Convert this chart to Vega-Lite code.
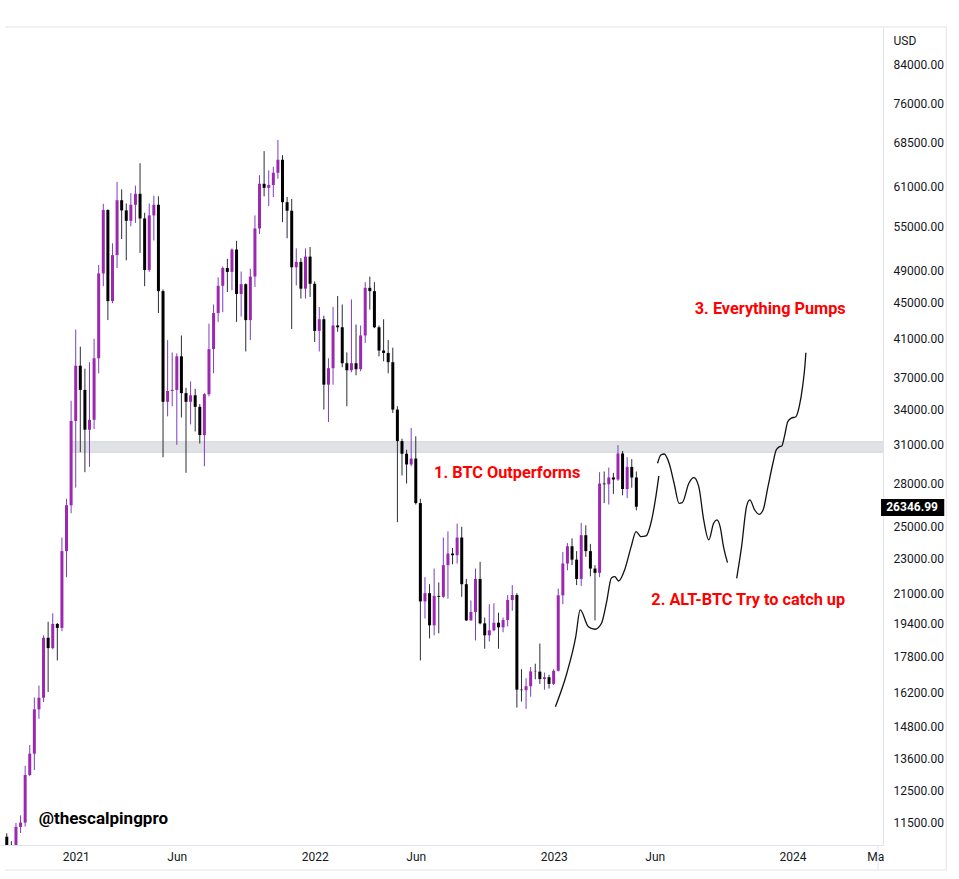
{
  "$schema": "https://vega.github.io/schema/vega-lite/v6.json",
  "width": 883,
  "height": 818,
  "autosize": {"type": "none"},
  "padding": {"left": 0, "top": 27, "right": 76, "bottom": 34},
  "background": "#ffffff",
  "view": {"stroke": null},
  "config": {"font": "Roboto"},
  "datasets": {
    "candles": [
      {"t":"2020-09-21","o":11080,"h":11180,"l":10140,"c":10780},
      {"t":"2020-09-28","o":10780,"h":10950,"l":10370,"c":10670},
      {"t":"2020-10-05","o":10670,"h":11490,"l":10530,"c":11370},
      {"t":"2020-10-12","o":11370,"h":11720,"l":11190,"c":11500},
      {"t":"2020-10-19","o":11500,"h":13350,"l":11380,"c":13030},
      {"t":"2020-10-26","o":13030,"h":14100,"l":12990,"c":13780},
      {"t":"2020-11-02","o":13780,"h":15970,"l":13200,"c":15480},
      {"t":"2020-11-09","o":15480,"h":16480,"l":15100,"c":15960},
      {"t":"2020-11-16","o":15960,"h":18800,"l":15780,"c":18680},
      {"t":"2020-11-23","o":18680,"h":19480,"l":16200,"c":18180},
      {"t":"2020-11-30","o":18180,"h":19920,"l":18120,"c":19370},
      {"t":"2020-12-07","o":19370,"h":19420,"l":17600,"c":19170},
      {"t":"2020-12-14","o":19170,"h":24300,"l":19000,"c":23450},
      {"t":"2020-12-21","o":23450,"h":26900,"l":21900,"c":26450},
      {"t":"2020-12-28","o":26450,"h":34800,"l":25900,"c":33000},
      {"t":"2021-01-04","o":33000,"h":41950,"l":27700,"c":38150},
      {"t":"2021-01-11","o":38150,"h":40100,"l":30400,"c":35800},
      {"t":"2021-01-18","o":35800,"h":37850,"l":28850,"c":32250},
      {"t":"2021-01-25","o":32250,"h":38500,"l":29250,"c":33100},
      {"t":"2021-02-01","o":33100,"h":40950,"l":32300,"c":38900},
      {"t":"2021-02-08","o":38900,"h":49700,"l":37400,"c":48600},
      {"t":"2021-02-15","o":48600,"h":58350,"l":47000,"c":57400},
      {"t":"2021-02-22","o":57400,"h":57500,"l":43000,"c":45200},
      {"t":"2021-03-01","o":45200,"h":52600,"l":44950,"c":51000},
      {"t":"2021-03-08","o":51000,"h":61800,"l":49300,"c":58900},
      {"t":"2021-03-15","o":58900,"h":60600,"l":53200,"c":57350},
      {"t":"2021-03-22","o":57350,"h":58400,"l":50300,"c":55800},
      {"t":"2021-03-29","o":55800,"h":60000,"l":55000,"c":58200},
      {"t":"2021-04-05","o":58200,"h":61200,"l":55500,"c":59900},
      {"t":"2021-04-12","o":59900,"h":64900,"l":51300,"c":56150},
      {"t":"2021-04-19","o":56150,"h":57000,"l":47000,"c":49050},
      {"t":"2021-04-26","o":49050,"h":58400,"l":48800,"c":56600},
      {"t":"2021-05-03","o":56600,"h":59600,"l":53000,"c":58200},
      {"t":"2021-05-10","o":58200,"h":59500,"l":43800,"c":46400},
      {"t":"2021-05-17","o":46400,"h":46600,"l":30000,"c":34700},
      {"t":"2021-05-24","o":34700,"h":40800,"l":33400,"c":35700},
      {"t":"2021-05-31","o":35700,"h":39500,"l":34300,"c":35800},
      {"t":"2021-06-07","o":35800,"h":39400,"l":31000,"c":39100},
      {"t":"2021-06-14","o":39100,"h":41300,"l":33300,"c":35500},
      {"t":"2021-06-21","o":35500,"h":36000,"l":28800,"c":34700},
      {"t":"2021-06-28","o":34700,"h":36600,"l":32700,"c":35300},
      {"t":"2021-07-05","o":35300,"h":35900,"l":32100,"c":34250},
      {"t":"2021-07-12","o":34250,"h":34500,"l":31100,"c":31800},
      {"t":"2021-07-19","o":31800,"h":35500,"l":29300,"c":35400},
      {"t":"2021-07-26","o":35400,"h":42600,"l":35200,"c":39850},
      {"t":"2021-08-02","o":39850,"h":44800,"l":37400,"c":43800},
      {"t":"2021-08-09","o":43800,"h":48100,"l":42800,"c":47050},
      {"t":"2021-08-16","o":47050,"h":49500,"l":43900,"c":49300},
      {"t":"2021-08-23","o":49300,"h":50500,"l":46300,"c":48800},
      {"t":"2021-08-30","o":48800,"h":51900,"l":46500,"c":51750},
      {"t":"2021-09-06","o":51750,"h":52950,"l":42800,"c":46050},
      {"t":"2021-09-13","o":46050,"h":48850,"l":43400,"c":47250},
      {"t":"2021-09-20","o":47250,"h":47350,"l":39600,"c":43000},
      {"t":"2021-09-27","o":43000,"h":49200,"l":40800,"c":48200},
      {"t":"2021-10-04","o":48200,"h":56600,"l":46900,"c":54700},
      {"t":"2021-10-11","o":54700,"h":62900,"l":53900,"c":61500},
      {"t":"2021-10-18","o":61500,"h":67000,"l":59500,"c":60850},
      {"t":"2021-10-25","o":60850,"h":63700,"l":58000,"c":61300},
      {"t":"2021-11-01","o":61300,"h":64300,"l":59400,"c":63300},
      {"t":"2021-11-08","o":63300,"h":69000,"l":62300,"c":65500},
      {"t":"2021-11-15","o":65500,"h":66300,"l":55600,"c":58600},
      {"t":"2021-11-22","o":58600,"h":59400,"l":53300,"c":57300},
      {"t":"2021-11-29","o":57300,"h":59100,"l":42000,"c":49400},
      {"t":"2021-12-06","o":49400,"h":51900,"l":47100,"c":50100},
      {"t":"2021-12-13","o":50100,"h":50600,"l":45500,"c":46700},
      {"t":"2021-12-20","o":46700,"h":51900,"l":45500,"c":50800},
      {"t":"2021-12-27","o":50800,"h":52100,"l":45700,"c":47300},
      {"t":"2022-01-03","o":47300,"h":47600,"l":40600,"c":41800},
      {"t":"2022-01-10","o":41800,"h":44500,"l":39600,"c":43100},
      {"t":"2022-01-17","o":43100,"h":43500,"l":34000,"c":36300},
      {"t":"2022-01-24","o":36300,"h":38900,"l":32900,"c":37900},
      {"t":"2022-01-31","o":37900,"h":44500,"l":36300,"c":42400},
      {"t":"2022-02-07","o":42400,"h":45800,"l":41700,"c":42200},
      {"t":"2022-02-14","o":42200,"h":44800,"l":38000,"c":38400},
      {"t":"2022-02-21","o":38400,"h":39500,"l":34300,"c":37700},
      {"t":"2022-02-28","o":37700,"h":45400,"l":37500,"c":38400},
      {"t":"2022-03-07","o":38400,"h":42500,"l":37200,"c":37800},
      {"t":"2022-03-14","o":37800,"h":42400,"l":37600,"c":41300},
      {"t":"2022-03-21","o":41300,"h":47500,"l":40500,"c":46800},
      {"t":"2022-03-28","o":46800,"h":48200,"l":44200,"c":46400},
      {"t":"2022-04-04","o":46400,"h":47500,"l":42100,"c":42200},
      {"t":"2022-04-11","o":42200,"h":42400,"l":39100,"c":39700},
      {"t":"2022-04-18","o":39700,"h":43100,"l":38600,"c":39450},
      {"t":"2022-04-25","o":39450,"h":40800,"l":37400,"c":38500},
      {"t":"2022-05-02","o":38500,"h":40000,"l":33700,"c":34000},
      {"t":"2022-05-09","o":34000,"h":34300,"l":25300,"c":31300},
      {"t":"2022-05-16","o":31300,"h":31500,"l":28600,"c":30280},
      {"t":"2022-05-23","o":30280,"h":30600,"l":28000,"c":29440},
      {"t":"2022-05-30","o":29440,"h":32400,"l":29300,"c":29900},
      {"t":"2022-06-06","o":29900,"h":31700,"l":26500,"c":26600},
      {"t":"2022-06-13","o":26600,"h":26900,"l":17600,"c":20550},
      {"t":"2022-06-20","o":20550,"h":21900,"l":19650,"c":21000},
      {"t":"2022-06-27","o":21000,"h":21500,"l":18650,"c":19300},
      {"t":"2022-07-04","o":19300,"h":22400,"l":18800,"c":20850},
      {"t":"2022-07-11","o":20850,"h":21600,"l":18900,"c":20800},
      {"t":"2022-07-18","o":20800,"h":24300,"l":20750,"c":22600},
      {"t":"2022-07-25","o":22600,"h":24700,"l":20700,"c":23300},
      {"t":"2022-08-01","o":23300,"h":23650,"l":22650,"c":23200},
      {"t":"2022-08-08","o":23200,"h":25200,"l":22700,"c":24300},
      {"t":"2022-08-15","o":24300,"h":25000,"l":20800,"c":21500},
      {"t":"2022-08-22","o":21500,"h":21800,"l":19520,"c":19550},
      {"t":"2022-08-29","o":19550,"h":20600,"l":19550,"c":19990},
      {"t":"2022-09-05","o":19990,"h":22400,"l":18550,"c":21800},
      {"t":"2022-09-12","o":21800,"h":22800,"l":19350,"c":19400},
      {"t":"2022-09-19","o":19400,"h":19700,"l":18150,"c":18800},
      {"t":"2022-09-26","o":18800,"h":20400,"l":18500,"c":19050},
      {"t":"2022-10-03","o":19050,"h":20450,"l":19000,"c":19430},
      {"t":"2022-10-10","o":19430,"h":19950,"l":18150,"c":19200},
      {"t":"2022-10-17","o":19200,"h":19700,"l":18950,"c":19570},
      {"t":"2022-10-24","o":19570,"h":20900,"l":19250,"c":20630},
      {"t":"2022-10-31","o":20630,"h":21450,"l":20050,"c":20900},
      {"t":"2022-11-07","o":20900,"h":21000,"l":15550,"c":16300},
      {"t":"2022-11-14","o":16300,"h":17200,"l":15800,"c":16280},
      {"t":"2022-11-21","o":16280,"h":16800,"l":15500,"c":16450},
      {"t":"2022-11-28","o":16450,"h":17300,"l":16000,"c":17100},
      {"t":"2022-12-05","o":17100,"h":17450,"l":16750,"c":17090},
      {"t":"2022-12-12","o":17090,"h":18400,"l":16550,"c":16760},
      {"t":"2022-12-19","o":16760,"h":17050,"l":16300,"c":16840},
      {"t":"2022-12-26","o":16840,"h":16950,"l":16350,"c":16550},
      {"t":"2023-01-02","o":16550,"h":17200,"l":16500,"c":17130},
      {"t":"2023-01-09","o":17130,"h":21250,"l":17100,"c":20880},
      {"t":"2023-01-16","o":20880,"h":23400,"l":20400,"c":22700},
      {"t":"2023-01-23","o":22700,"h":23950,"l":22300,"c":23750},
      {"t":"2023-01-30","o":23750,"h":24250,"l":22600,"c":22930},
      {"t":"2023-02-06","o":22930,"h":23450,"l":21450,"c":21800},
      {"t":"2023-02-13","o":21800,"h":25250,"l":21400,"c":24450},
      {"t":"2023-02-20","o":24450,"h":25100,"l":23100,"c":23450},
      {"t":"2023-02-27","o":23450,"h":23900,"l":21950,"c":22400},
      {"t":"2023-03-06","o":22400,"h":22600,"l":19550,"c":22150},
      {"t":"2023-03-13","o":22150,"h":28850,"l":21900,"c":28000},
      {"t":"2023-03-20","o":28000,"h":28900,"l":26600,"c":27950},
      {"t":"2023-03-27","o":27950,"h":29200,"l":26500,"c":28450},
      {"t":"2023-04-03","o":28450,"h":28800,"l":27250,"c":28300},
      {"t":"2023-04-10","o":28300,"h":30970,"l":28200,"c":30300},
      {"t":"2023-04-17","o":30300,"h":30500,"l":27150,"c":27600},
      {"t":"2023-04-24","o":27600,"h":30000,"l":26950,"c":29250},
      {"t":"2023-05-01","o":29250,"h":29850,"l":27700,"c":28450},
      {"t":"2023-05-08","o":28450,"h":28900,"l":26100,"c":26346.99}
    ],
    "curve": [
      {"seg":"A","t":"2023-01-04T17:00:00Z","p":15590},
      {"seg":"A","t":"2023-01-22T05:00:00Z","p":17030},
      {"seg":"A","t":"2023-02-04T17:00:00Z","p":18735},
      {"seg":"A","t":"2023-02-11T10:00:00Z","p":20095},
      {"seg":"A","t":"2023-02-23T22:00:00Z","p":19232},
      {"seg":"A","t":"2023-03-06T00:00:00Z","p":19101},
      {"seg":"A","t":"2023-03-15T22:00:00Z","p":19404},
      {"seg":"A","t":"2023-03-23T10:00:00Z","p":20466},
      {"seg":"A","t":"2023-03-31T00:00:00Z","p":21853},
      {"seg":"A","t":"2023-04-05T02:00:00Z","p":21928},
      {"seg":"A","t":"2023-04-11T02:00:00Z","p":21682},
      {"seg":"A","t":"2023-04-20T02:00:00Z","p":22317},
      {"seg":"A","t":"2023-04-30T02:00:00Z","p":23725},
      {"seg":"A","t":"2023-05-07T14:00:00Z","p":24678},
      {"seg":"A","t":"2023-05-15T02:00:00Z","p":24355},
      {"seg":"A","t":"2023-05-22T17:00:00Z","p":24401},
      {"seg":"A","t":"2023-05-30T05:00:00Z","p":25247},
      {"seg":"A","t":"2023-06-06T17:00:00Z","p":27051},
      {"seg":"A","t":"2023-06-11T05:00:00Z","p":28563},
      {"seg":"B","t":"2023-06-09T07:00:00Z","p":29531},
      {"seg":"B","t":"2023-06-14T07:00:00Z","p":30181},
      {"seg":"B","t":"2023-06-19T10:00:00Z","p":30259},
      {"seg":"B","t":"2023-06-26T22:00:00Z","p":29531},
      {"seg":"B","t":"2023-07-04T12:00:00Z","p":28020},
      {"seg":"B","t":"2023-07-12T00:00:00Z","p":26587},
      {"seg":"B","t":"2023-07-16T22:00:00Z","p":26630},
      {"seg":"B","t":"2023-07-27T00:00:00Z","p":28020},
      {"seg":"B","t":"2023-08-03T14:00:00Z","p":28436},
      {"seg":"B","t":"2023-08-11T02:00:00Z","p":27772},
      {"seg":"B","t":"2023-08-18T14:00:00Z","p":25448},
      {"seg":"B","t":"2023-08-26T05:00:00Z","p":24147},
      {"seg":"B","t":"2023-09-02T17:00:00Z","p":25227},
      {"seg":"B","t":"2023-09-07T17:00:00Z","p":25448},
      {"seg":"B","t":"2023-09-12T14:00:00Z","p":25003},
      {"seg":"B","t":"2023-09-17T17:00:00Z","p":23725},
      {"seg":"B","t":"2023-09-23T19:00:00Z","p":22750},
      {"seg":"C","t":"2023-10-07T19:00:00Z","p":21836},
      {"seg":"C","t":"2023-10-15T07:00:00Z","p":23725},
      {"seg":"C","t":"2023-10-22T19:00:00Z","p":26352},
      {"seg":"C","t":"2023-10-27T19:00:00Z","p":26819},
      {"seg":"C","t":"2023-11-04T07:00:00Z","p":26123},
      {"seg":"C","t":"2023-11-11T00:00:00Z","p":25829},
      {"seg":"C","t":"2023-11-17T00:00:00Z","p":26123},
      {"seg":"C","t":"2023-11-24T12:00:00Z","p":27772},
      {"seg":"C","t":"2023-12-02T00:00:00Z","p":29531},
      {"seg":"C","t":"2023-12-07T00:00:00Z","p":30578},
      {"seg":"C","t":"2023-12-12T00:00:00Z","p":30846},
      {"seg":"C","t":"2023-12-15T14:00:00Z","p":30902},
      {"seg":"C","t":"2023-12-19T12:00:00Z","p":31665},
      {"seg":"C","t":"2023-12-24T14:00:00Z","p":32937},
      {"seg":"C","t":"2023-12-29T14:00:00Z","p":33231},
      {"seg":"C","t":"2024-01-06T02:00:00Z","p":33371},
      {"seg":"C","t":"2024-01-11T02:00:00Z","p":34257},
      {"seg":"C","t":"2024-01-16T05:00:00Z","p":36105},
      {"seg":"C","t":"2024-01-20T02:00:00Z","p":38394},
      {"seg":"C","t":"2024-01-21T05:00:00Z","p":39477}
    ]
  },
  "layer": [
    {
      "data": {"values": [{"t1":"2020-12-27T19:00:00Z","t2":"2024-06-30T00:00:00Z","p1":30400,"p2":31250}]},
      "mark": {"type": "rect", "fill": "#e1e2e6", "stroke": "#d3d5da", "strokeWidth": 1, "clip": true},
      "encoding": {
        "x": {"field": "t1", "type": "temporal"},
        "x2": {"field": "t2"},
        "y": {"field": "p1", "type": "quantitative"},
        "y2": {"field": "p2"}
      }
    },
    {
      "data": {"name": "candles"},
      "mark": {"type": "rule", "strokeWidth": 1, "clip": true},
      "encoding": {
        "x": {"field": "t", "type": "temporal"},
        "y": {"field": "l", "type": "quantitative"},
        "y2": {"field": "h"},
        "color": {"condition": {"test": "datum.c >= datum.o", "value": "#7b3ec6"}, "value": "#2a2e39"}
      }
    },
    {
      "data": {"name": "candles"},
      "mark": {"type": "bar", "size": 3, "orient": "vertical", "clip": true},
      "encoding": {
        "x": {
          "field": "t", "type": "temporal",
          "scale": {"type": "utc", "domain": [{"year": 2020, "month": 9, "date": 18, "hours": 7, "utc": true}, {"year": 2024, "month": 5, "date": 10, "hours": 2, "utc": true}], "nice": false},
          "axis": {
            "title": null, "grid": false, "ticks": false, "domain": true, "domainColor": "#e0e3eb",
            "labelFont": "Roboto", "labelFontSize": 12, "labelColor": "#131722", "labelPadding": 6,
            "labelFlush": false, "labelOverlap": false,
            "values": [
              {"year": 2021, "month": 1, "date": 4, "utc": true},
              {"year": 2021, "month": 6, "date": 7, "utc": true},
              {"year": 2022, "month": 1, "date": 3, "utc": true},
              {"year": 2022, "month": 6, "date": 6, "utc": true},
              {"year": 2023, "month": 1, "date": 2, "utc": true},
              {"year": 2023, "month": 6, "date": 5, "utc": true},
              {"year": 2024, "month": 1, "date": 1, "utc": true},
              {"year": 2024, "month": 5, "date": 6, "utc": true}
            ],
            "labelExpr": "utcmonth(datum.value) == 0 ? utcFormat(datum.value, '%Y') : (utcmonth(datum.value) == 4 ? 'Ma' : 'Jun')"
          }
        },
        "y": {
          "field": "o", "type": "quantitative",
          "scale": {"type": "log", "domain": [10843, 92806], "nice": false, "zero": false},
          "axis": {
            "orient": "right", "title": "USD", "titleAngle": 0, "titleAlign": "left", "titleBaseline": "middle",
            "titleX": 10, "titleY": 13, "titleFont": "Roboto", "titleFontSize": 12, "titleFontWeight": "normal", "titleColor": "#131722",
            "grid": false, "ticks": false, "domain": true, "domainColor": "#e0e3eb",
            "labelFont": "Roboto", "labelFontSize": 12, "labelColor": "#131722", "labelPadding": 10, "labelAlign": "left",
            "labelOverlap": false, "labelFlush": false, "format": ".2f",
            "values": [84000, 76000, 68500, 61000, 55000, 49000, 45000, 41000, 37000, 34000, 31000, 28000, 25000, 23000, 21000, 19400, 17800, 16200, 14800, 13600, 12500, 11500]
          }
        },
        "y2": {"field": "c"},
        "color": {"condition": {"test": "datum.c >= datum.o", "value": "#9c27b0"}, "value": "#000000"}
      }
    },
    {
      "data": {"name": "curve"},
      "mark": {"type": "line", "interpolate": "monotone", "color": "#111111", "strokeWidth": 1.3, "clip": true},
      "encoding": {
        "x": {"field": "t", "type": "temporal"},
        "y": {"field": "p", "type": "quantitative"},
        "detail": {"field": "seg"}
      }
    },
    {
      "data": {"values": [
        {"label": "1. BTC Outperforms", "t": "2022-07-03T22:00:00Z", "p": 28414},
        {"label": "2. ALT-BTC Try to catch up", "t": "2023-05-30T18:00:00Z", "p": 20357},
        {"label": "3. Everything Pumps", "t": "2023-08-05T00:00:00Z", "p": 43695}
      ]},
      "mark": {"type": "text", "align": "left", "baseline": "alphabetic", "font": "Roboto", "fontWeight": "bold", "fontSize": 16.3, "color": "#ff0000"},
      "encoding": {
        "x": {"field": "t", "type": "temporal"},
        "y": {"field": "p", "type": "quantitative"},
        "text": {"field": "label"}
      }
    },
    {
      "data": {"values": [
        {"label": "@thescalpingpro", "t": "2020-11-08T14:00:00Z", "p": 11458}
      ]},
      "mark": {"type": "text", "align": "left", "baseline": "alphabetic", "font": "Roboto", "fontWeight": "bold", "fontSize": 17, "color": "#000000"},
      "encoding": {
        "x": {"field": "t", "type": "temporal"},
        "y": {"field": "p", "type": "quantitative"},
        "text": {"field": "label"}
      }
    },
    {
      "data": {"values": [{"t1": "2024-05-14T17:00:00Z", "t2": "2024-08-19T00:00:00Z", "p1": 25716, "p2": 26890}]},
      "mark": {"type": "rect", "fill": "#000000", "clip": false},
      "encoding": {
        "x": {"field": "t1", "type": "temporal"},
        "x2": {"field": "t2"},
        "y": {"field": "p1", "type": "quantitative"},
        "y2": {"field": "p2"}
      }
    },
    {
      "data": {"values": [{"t": "2024-07-01T00:00:00Z", "p": 26346.99, "label": "26346.99"}]},
      "mark": {"type": "text", "align": "center", "baseline": "middle", "font": "Roboto", "fontWeight": "bold", "fontSize": 12, "color": "#ffffff", "clip": false},
      "encoding": {
        "x": {"field": "t", "type": "temporal"},
        "y": {"field": "p", "type": "quantitative"},
        "text": {"field": "label"}
      }
    },
    {
      "data": {"values": [
        {"x1": "2020-09-18T07:00:00Z", "x2": "2024-08-22T00:00:00Z", "y1": 92806, "y2": 92806},
        {"x1": "2020-09-18T07:00:00Z", "x2": "2024-08-22T00:00:00Z", "y1": 10154, "y2": 10154},
        {"x1": "2024-08-22T00:00:00Z", "x2": "2024-08-22T00:00:00Z", "y1": 92806, "y2": 10154},
        {"x1": "2024-05-10T02:00:00Z", "x2": "2024-05-10T02:00:00Z", "y1": 10843, "y2": 10154}
      ]},
      "mark": {"type": "rule", "color": "#e0e3eb", "strokeWidth": 1, "clip": false},
      "encoding": {
        "x": {"field": "x1", "type": "temporal"},
        "x2": {"field": "x2"},
        "y": {"field": "y1", "type": "quantitative"},
        "y2": {"field": "y2"}
      }
    }
  ]
}
